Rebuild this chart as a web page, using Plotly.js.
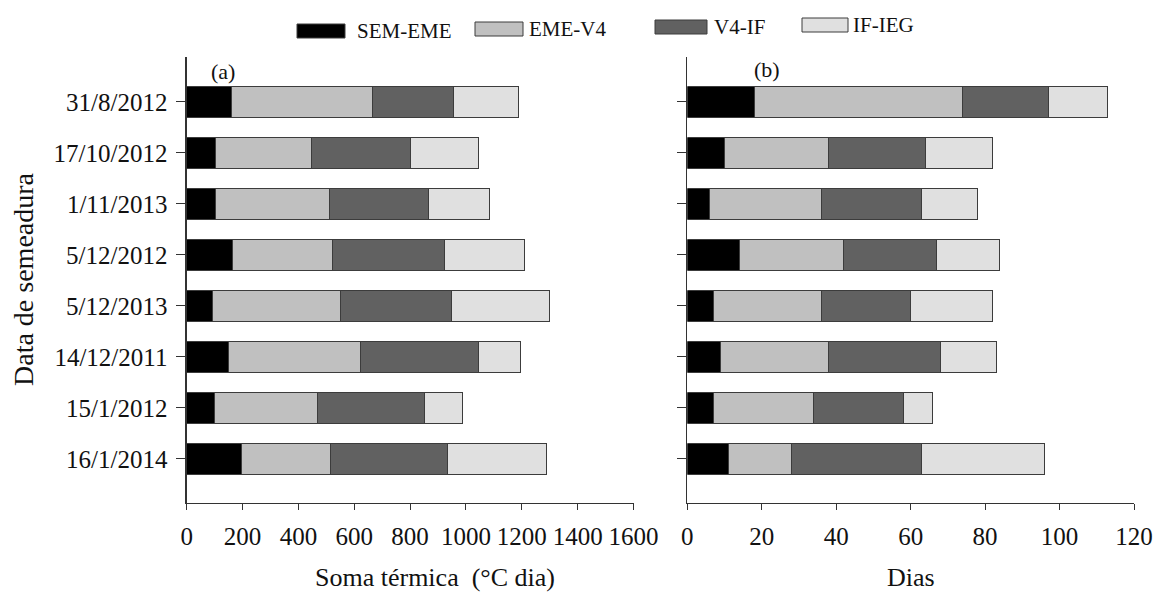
<!DOCTYPE html>
<html>
<head>
<meta charset="utf-8">
<script src="https://cdn.plot.ly/plotly-3.0.1.min.js"></script>
<style>html,body{margin:0;padding:0;background:#fff;}#chart{width:1155px;height:595px;}</style>
</head>
<body>
<div id="chart"></div>
<script>
// Categories (top to bottom)
const dates = ["31/8/2012","17/10/2012","1/11/2013","5/12/2012","5/12/2013","14/12/2011","15/1/2012","16/1/2014"];
const seriesNames = ["SEM-EME","EME-V4","V4-IF","IF-IEG"];
const seriesColors = ["#000000","#c0c0c0","#616161","#e0e0e0"];

// (a) Soma térmica (°C dia)
const somaSemEme = [159,104,104,165, 93,151, 99,198];
const somaEmeV4  = [505,343,407,356,457,470,368,316];
const somaV4If   = [293,353,354,402,399,425,385,420];
const somaIfIeg  = [232,246,220,287,349,149,135,354];

// (b) Dias
const diasSemEme = [18,10, 6,14, 7, 9, 7,11];
const diasEmeV4  = [56,28,30,28,29,29,27,17];
const diasV4If   = [23,26,27,25,24,30,24,35];
const diasIfIeg  = [16,18,15,17,22,15, 8,33];

const somaSeries = [somaSemEme, somaEmeV4, somaV4If, somaIfIeg];
const diasSeries = [diasSemEme, diasEmeV4, diasV4If, diasIfIeg];

const W = 1155, H = 595;
const px = x => x / W;
const py = y => 1 - y / H;

const traces = [];
seriesNames.forEach((name, i) => {
  traces.push({
    type: "bar", orientation: "h", name: name,
    x: somaSeries[i], y: dates, xaxis: "x", yaxis: "y",
    width: 0.59,
    marker: {color: seriesColors[i], line: {color: "#3c3c3c", width: 1}},
    showlegend: false, hoverinfo: "x+y+name"
  });
  traces.push({
    type: "bar", orientation: "h", name: name,
    x: diasSeries[i], y: dates, xaxis: "x2", yaxis: "y2",
    width: 0.59,
    marker: {color: seriesColors[i], line: {color: "#3c3c3c", width: 1}},
    showlegend: false, hoverinfo: "x+y+name"
  });
});

const serif = "Liberation Serif";
const yRange = [7.863, -0.882];
const yDomain = [py(503), py(57)];

const axisCommon = {
  showline: true, linecolor: "#333", linewidth: 1.3,
  ticks: "outside", tickcolor: "#333", tickwidth: 1,
  showgrid: false, zeroline: false,
  tickfont: {family: serif, size: 25, color: "#111"}
};

// Custom legend
const legendItems = [
  {sx0: 297, sx1: 345, sy: 31, tx: 355},
  {sx0: 475, sx1: 523, sy: 29, tx: 527},
  {sx0: 655, sx1: 707, sy: 27, tx: 712},
  {sx0: 802, sx1: 848, sy: 25, tx: 851}
];
const shapes = [];
const annotations = [];
legendItems.forEach((it, i) => {
  shapes.push({type: "rect", xref: "paper", yref: "paper",
    x0: px(it.sx0), x1: px(it.sx1), y0: py(it.sy + 7), y1: py(it.sy - 7),
    fillcolor: seriesColors[i], line: {color: "#3c3c3c", width: 1}});
  annotations.push({xref: "paper", yref: "paper", x: px(it.tx), y: py(it.sy),
    xanchor: "left", yanchor: "middle", showarrow: false, text: seriesNames[i],
    font: {family: serif, size: 21, color: "#111"}});
});
annotations.push({xref: "paper", yref: "paper", x: px(223), y: py(71), xanchor: "center", yanchor: "middle",
  showarrow: false, text: "(a)", font: {family: serif, size: 22, color: "#111"}});
annotations.push({xref: "paper", yref: "paper", x: px(767), y: py(69), xanchor: "center", yanchor: "middle",
  showarrow: false, text: "(b)", font: {family: serif, size: 22, color: "#111"}});
annotations.push({xref: "paper", yref: "paper", x: px(435), y: py(577), xanchor: "center", yanchor: "middle",
  showarrow: false, text: "Soma térmica  (°C dia)", font: {family: serif, size: 26, color: "#111"}});
annotations.push({xref: "paper", yref: "paper", x: px(911), y: py(594), xanchor: "center", yanchor: "bottom",
  showarrow: false, text: "Dias", font: {family: serif, size: 26, color: "#111"}});
annotations.push({xref: "paper", yref: "paper", x: px(23), y: py(279), xanchor: "center", yanchor: "middle",
  showarrow: false, textangle: -90, text: "Data de semeadura", font: {family: serif, size: 28, color: "#111"}});

const layout = {
  width: W, height: H,
  margin: {l: 0, r: 0, t: 0, b: 0},
  paper_bgcolor: "#fff", plot_bgcolor: "#fff",
  barmode: "stack",
  showlegend: false,
  xaxis: Object.assign({}, axisCommon, {domain: [px(186.7), px(633.5)], range: [0, 1600], dtick: 200, tick0: 0,
    ticklen: 6, anchor: "y", ticklabelstandoff: 5}),
  xaxis2: Object.assign({}, axisCommon, {domain: [px(687.3), px(1134)], range: [0, 120], dtick: 20, tick0: 0,
    ticklen: 6, anchor: "y2", ticklabelstandoff: 5}),
  yaxis: Object.assign({}, axisCommon, {domain: yDomain, range: yRange, type: "category",
    categoryorder: "array", categoryarray: dates, ticklen: 9, anchor: "x", ticklabelstandoff: 4}),
  yaxis2: Object.assign({}, axisCommon, {domain: yDomain, range: yRange, type: "category",
    categoryorder: "array", categoryarray: dates, ticklen: 9, anchor: "x2", showticklabels: false}),
  shapes: shapes,
  annotations: annotations
};

Plotly.newPlot("chart", traces, layout, {displayModeBar: false, staticPlot: true});
</script>
</body>
</html>
